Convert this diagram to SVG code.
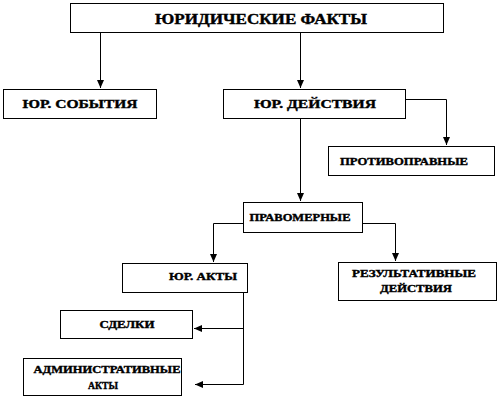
<svg xmlns="http://www.w3.org/2000/svg" width="502" height="406" viewBox="0 0 502 406">
<style>
.box{fill:#fff;stroke:#000;stroke-width:1}
.t{font-family:"Liberation Serif","DejaVu Serif","Times New Roman",serif;font-weight:900;text-anchor:middle;fill:#000;stroke:#000;stroke-width:0.4}
.c{fill:none;stroke:#000;stroke-width:1}
</style>
<defs>
<marker id="ah" markerUnits="userSpaceOnUse" markerWidth="9" markerHeight="8" refX="8" refY="3.5" orient="auto">
<path d="M0,0 L8,3.5 L0,7 z" fill="#000"/>
</marker>
</defs>
<rect width="502" height="406" fill="#fff"/>
<g id="connectors">
<path class="c" d="M100.5 32 V88" marker-end="url(#ah)"/>
<path class="c" d="M300.5 32 V88" marker-end="url(#ah)"/>
<path class="c" d="M406 99.5 H446.5 V145" marker-end="url(#ah)"/>
<path class="c" d="M300.5 118 V201" marker-end="url(#ah)"/>
<path class="c" d="M243 223.5 H213.5 V262" marker-end="url(#ah)"/>
<path class="c" d="M363 223.5 H395.5 V261" marker-end="url(#ah)"/>
<path class="c" d="M243.5 292 V328.5 H194" marker-end="url(#ah)"/>
<path class="c" d="M243.5 328 V384.5 H195" marker-end="url(#ah)"/>
</g>
<g id="n-facts">
<rect class="box" x="70.5" y="3.5" width="373" height="29"/>
<text class="t" x="261" y="24" font-size="15" textLength="212" lengthAdjust="spacingAndGlyphs">ЮРИДИЧЕСКИЕ  ФАКТЫ</text>
</g>
<g id="n-events">
<rect class="box" x="3.5" y="89.5" width="153" height="29"/>
<text class="t" x="80" y="108" font-size="13" textLength="115" lengthAdjust="spacingAndGlyphs">ЮР. СОБЫТИЯ</text>
</g>
<g id="n-actions">
<rect class="box" x="223.5" y="89.5" width="182" height="29"/>
<text class="t" x="315" y="108" font-size="13" textLength="122" lengthAdjust="spacingAndGlyphs">ЮР. ДЕЙСТВИЯ</text>
</g>
<g id="n-unlawful">
<rect class="box" x="328.5" y="146.5" width="166" height="29"/>
<text class="t" x="404" y="165" font-size="11" textLength="128" lengthAdjust="spacingAndGlyphs">ПРОТИВОПРАВНЫЕ</text>
</g>
<g id="n-lawful">
<rect class="box" x="243.5" y="202.5" width="119" height="30"/>
<text class="t" x="300" y="221" font-size="11" textLength="101" lengthAdjust="spacingAndGlyphs">ПРАВОМЕРНЫЕ</text>
</g>
<g id="n-acts">
<rect class="box" x="122.5" y="263.5" width="125" height="29"/>
<text class="t" x="203" y="280" font-size="11" textLength="68" lengthAdjust="spacingAndGlyphs">ЮР. АКТЫ</text>
</g>
<g id="n-result">
<rect class="box" x="338.5" y="262.5" width="158" height="38"/>
<text class="t" x="414" y="277" font-size="11" textLength="124" lengthAdjust="spacingAndGlyphs">РЕЗУЛЬТАТИВНЫЕ</text>
<text class="t" x="416" y="292" font-size="11" textLength="72" lengthAdjust="spacingAndGlyphs">ДЕЙСТВИЯ</text>
</g>
<g id="n-deals">
<rect class="box" x="60.5" y="310.5" width="132" height="28"/>
<text class="t" x="127" y="328" font-size="11" textLength="55" lengthAdjust="spacingAndGlyphs">СДЕЛКИ</text>
</g>
<g id="n-admin">
<rect class="box" x="23.5" y="358.5" width="158" height="37"/>
<text class="t" x="107" y="373" font-size="11" textLength="147" lengthAdjust="spacingAndGlyphs">АДМИНИСТРАТИВНЫЕ</text>
<text class="t" x="103" y="389" font-size="11" textLength="30" lengthAdjust="spacingAndGlyphs">АКТЫ</text>
</g>
</svg>
